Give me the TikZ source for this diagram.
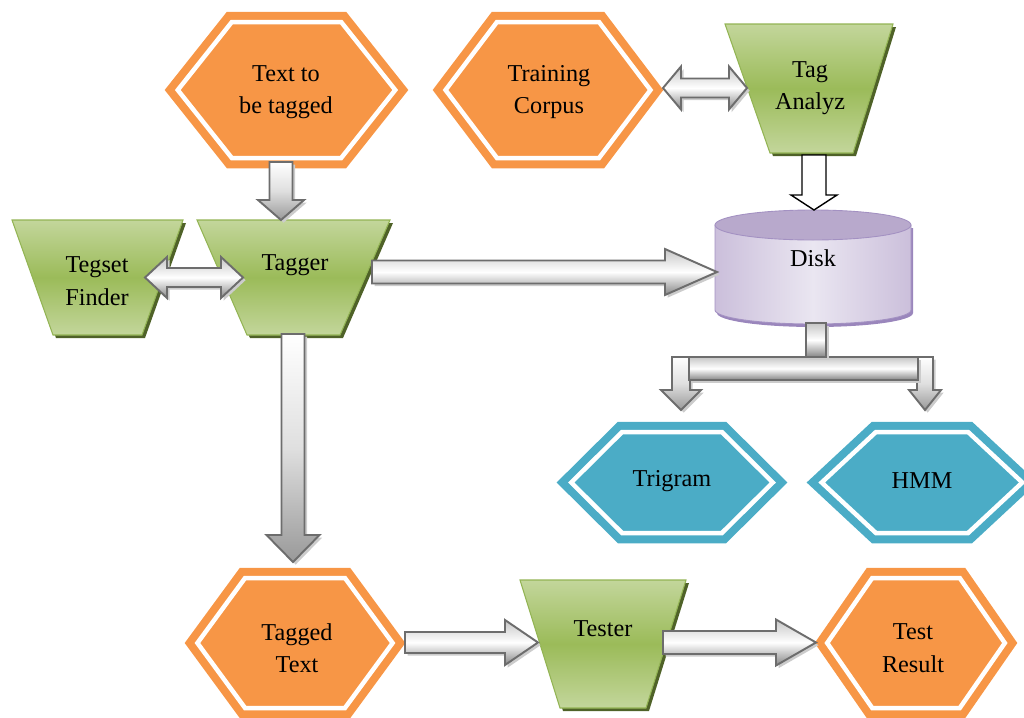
\documentclass[tikz,border=0pt]{standalone}
\usepackage{fontspec}
\setmainfont{Liberation Serif}
\usetikzlibrary{calc}

\definecolor{hexorange}{HTML}{F79646}
\definecolor{hexblue}{HTML}{4BACC6}
\definecolor{trapmid}{HTML}{9BBB59}
\definecolor{traplight}{HTML}{C3D69B}
\definecolor{trapshadow}{HTML}{4F6228}
\definecolor{trapline}{HTML}{93B454}
\definecolor{arrowline}{HTML}{6D6D6D}
\definecolor{disktop}{HTML}{B8A9CC}
\definecolor{diskside}{HTML}{CBBFDB}
\definecolor{disklight}{HTML}{EAE6F1}
\definecolor{diskline}{HTML}{A391C2}
\definecolor{diskshadow}{HTML}{9A86BC}

\tikzset{
  txt/.style={font=\fontsize{13.8}{18.5}\selectfont, align=center, inner sep=0pt},
  hexa/.style={draw=#1, fill=#1, line width=0.16cm, double=white, double distance=0.09cm, line join=miter},
  trap/.style={draw=trapline, line width=0.6pt, top color=traplight, bottom color=traplight, middle color=trapmid},
  blockarrow/.style={draw=arrowline, line width=1.1pt, line join=miter, top color=gray!45, bottom color=gray!95, middle color=white,
    preaction={fill=gray!40, transform canvas={xshift=1.5pt, yshift=-1.5pt}}},
  downarrow/.style={blockarrow, top color=white, bottom color=gray!80, middle color=gray!25},
  openarrow/.style={draw=black, fill=white, line width=0.8pt, line join=miter}
}

% hexagon: name, cx, cy, half width, half height, tip depth, colour
\newcommand\hexbox[7]{%
  \pgfmathsetmacro\hhin{#5-10}%
  \pgfmathsetmacro\tpin{#6*(#5-10)/#5}%
  \pgfmathsetmacro\hwin{#4-10/sin(atan(#5/#6))}%
  \path[hexa=#7] ({#2-\hwin},#3) -- ({#2-\hwin+\tpin},{#3-\hhin}) -- ({#2+\hwin-\tpin},{#3-\hhin})
    -- ({#2+\hwin},#3) -- ({#2+\hwin-\tpin},{#3+\hhin}) -- ({#2-\hwin+\tpin},{#3+\hhin}) -- cycle;
  \coordinate (#1-w) at ({#2-#4},#3);
  \coordinate (#1-e) at ({#2+#4},#3);
}
% inverted trapezium: name, top left x, top right x, bottom left x, bottom right x, top y, bottom y
\newcommand\trapbox[7]{%
  \fill[trapshadow] (#2+3,#6+3) -- (#3+3,#6+3) -- (#5+3,#7+3) -- (#4+3,#7+3) -- cycle;
  \path[trap] (#2,#6) coordinate (#1-nw) -- (#3,#6) coordinate (#1-ne) -- (#5,#7) coordinate (#1-se)
    -- (#4,#7) coordinate (#1-sw) -- cycle;
}
% block arrows: from, to, shaft half width, head half width, head length, style
\newcommand\harrow[6]{\path[#6] ($(#1)+(0,-#3)$) -- ($(#2)+(-#5,-#3)$) -- ($(#2)+(-#5,-#4)$) -- (#2)
  -- ($(#2)+(-#5,#4)$) -- ($(#2)+(-#5,#3)$) -- ($(#1)+(0,#3)$) -- cycle;}
\newcommand\varrow[6]{\path[#6] ($(#1)+(-#3,0)$) -- ($(#2)+(-#3,-#5)$) -- ($(#2)+(-#4,-#5)$) -- (#2)
  -- ($(#2)+(#4,-#5)$) -- ($(#2)+(#3,-#5)$) -- ($(#1)+(#3,0)$) -- cycle;}
\newcommand\hharrow[6]{\path[#6] (#1) -- ($(#1)+(#5,-#4)$) -- ($(#1)+(#5,-#3)$) -- ($(#2)+(-#5,-#3)$)
  -- ($(#2)+(-#5,-#4)$) -- (#2) -- ($(#2)+(-#5,#4)$) -- ($(#2)+(-#5,#3)$) -- ($(#1)+(#5,#3)$)
  -- ($(#1)+(#5,#4)$) -- cycle;}

\begin{document}
\begin{tikzpicture}[x=0.02cm, y=-0.02cm]
  \useasboundingbox (0,0) rectangle (1024,717);

  % hexagons
  \hexbox{text}{286.5}{90}{121.5}{78}{62}{hexorange}
  \hexbox{corpus}{548}{90}{115}{78}{59}{hexorange}
  \hexbox{trigram}{672}{482.5}{115}{60.5}{61}{hexblue}
  \hexbox{hmm}{922}{482.5}{115}{60.5}{65}{hexblue}
  \hexbox{tagged}{295}{643}{110}{75}{55}{hexorange}
  \hexbox{result}{916}{643}{101}{75}{52}{hexorange}

  % trapezia
  \trapbox{tegset}{12}{183}{53}{142}{220}{335}
  \trapbox{tagger}{197}{390}{247}{340}{220}{335}
  \trapbox{analyz}{725}{893}{770}{853}{24}{153}
  \trapbox{tester}{520}{686}{560}{646}{580}{708}

  % disk
  \fill[diskshadow] (717,228) -- (717,313) arc[start angle=180, end angle=0, x radius=98, y radius=14] -- (913,228) -- cycle;
  \path[draw=diskline, line width=0.5pt, left color=diskside, right color=diskside, middle color=disklight]
    (715,225) -- (715,310) arc[start angle=180, end angle=0, x radius=98, y radius=14] -- (911,225) -- cycle;
  \path[draw=diskline, line width=0.5pt, fill=disktop] (813,225) ellipse[x radius=98, y radius=15];

  % labels
  \node[txt] (textlbl) at (286,92) {Text to\\be tagged};
  \node[txt] (corpuslbl) at (549,92) {Training\\Corpus};
  \node[txt] (analyzlbl) at (810,88) {Tag\\Analyz};
  \node[txt] (tegsetlbl) at (97,281) {Tegset\\Finder};
  \node[txt] (taggerlbl) at (295,265) {Tagger};
  \node[txt] (disklbl) at (813,258) {Disk};
  \node[txt] (trigramlbl) at (672,481) {Trigram};
  \node[txt] (hmmlbl) at (922,481) {HMM};
  \node[txt] (taggedlbl) at (297,648) {Tagged\\Text};
  \node[txt] (testerlbl) at (603,629) {Tester};
  \node[txt] (resultlbl) at (913,648) {Test\\Result};

  % connector ends
  \coordinate (text-out) at (281,162);
  \coordinate (tagger-in) at (281,220);
  \coordinate (tagger-down) at (293,334);
  \coordinate (tagged-in) at (293,562);
  \coordinate (tagger-out) at (372,272);
  \coordinate (disk-in) at (717,272);
  \coordinate (tegset-tip) at (145,277.5);
  \coordinate (tagger-tip) at (243,277.5);
  \coordinate (corpus-tip) at (663,88);
  \coordinate (analyz-tip) at (747,88);
  \coordinate (analyz-out) at (814,155);
  \coordinate (disk-top) at (814,210);
  \coordinate (tagged-out) at (405,642.5);
  \coordinate (tester-in) at (538,642.5);
  \coordinate (tester-out) at (663,642.5);
  \coordinate (result-in) at (816,642.5);
  \coordinate (fork-l) at (681,357);
  \coordinate (trigram-in) at (681,410);
  \coordinate (fork-r) at (925,357);
  \coordinate (hmm-in) at (925,410);

  % block arrows
  \varrow{text-out}{tagger-in}{11.5}{23}{20}{downarrow}
  \varrow{tagger-down}{tagged-in}{11.5}{26.5}{27}{downarrow}
  \harrow{tagger-out}{disk-in}{11.5}{23}{52}{blockarrow}
  \hharrow{tegset-tip}{tagger-tip}{9.5}{20.5}{22}{blockarrow}
  \hharrow{corpus-tip}{analyz-tip}{9.5}{21.5}{18}{blockarrow}
  \varrow{analyz-out}{disk-top}{12}{23}{15}{openarrow}
  \harrow{tagged-out}{tester-in}{10.5}{22.5}{33}{blockarrow}
  \harrow{tester-out}{result-in}{11.5}{23}{40}{blockarrow}

  % fork below the disk
  \varrow{fork-l}{trigram-in}{9}{20}{20}{downarrow}
  \varrow{fork-r}{hmm-in}{8}{16}{20}{downarrow}
  \path[blockarrow] (689,357) rectangle (918,380);
  \path[blockarrow] (806,323) rectangle (826,357);
\end{tikzpicture}
\end{document}
